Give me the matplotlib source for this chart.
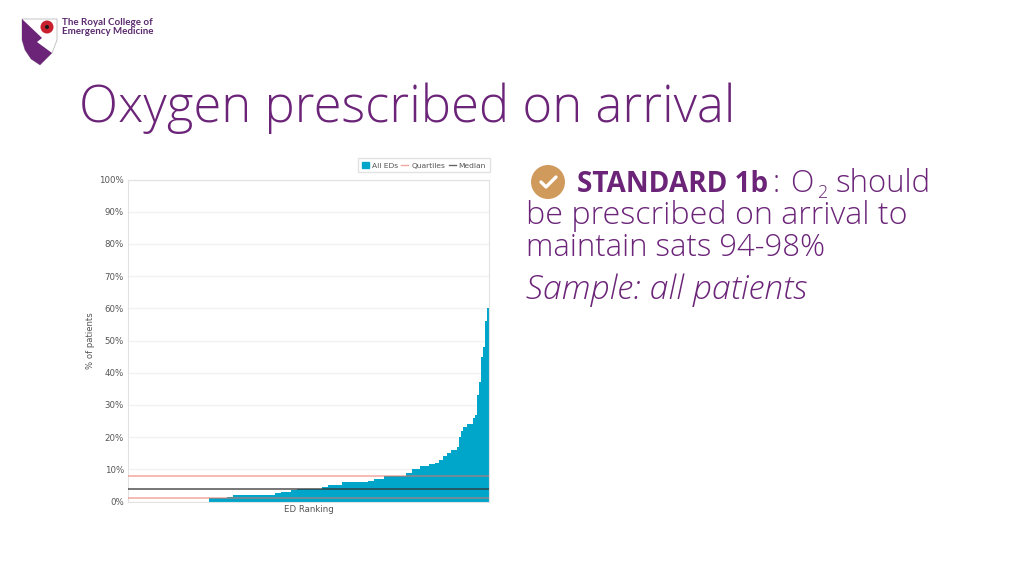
import numpy as np
from matplotlib import pyplot as plt
from matplotlib.lines import Line2D
from matplotlib.patches import Patch, Polygon, Circle

# percent of patients per ED, sorted
ed_values = [0] * 41 + [1] * 9 + [1.5] * 3 + [2] * 21 + [2.5] * 3 + [3] * 5 + [3.5] * 3 + \
    [4] * 13 + [4.5] * 3 + [5] * 7 + [6] * 13 + [6.5] * 3 + [7] * 5 + [8] * 11 + [8.8] * 3 + \
    [10] * 4 + [11] * 5 + [11.5] * 3 + [12] * 2 + [13] * 2 + [14] * 2 + [15] * 2 + [16] * 3 + \
    [17, 20, 22, 23, 23, 24, 24, 24, 26, 27, 33, 37, 45, 48, 56, 60]
quartiles = [1, 8]
median = 4
y_ticks = [0, 10, 20, 30, 40, 50, 60, 70, 80, 90, 100]

purple = '#6B2478'
bar_color = '#00A5CA'
W, H = 1024, 576

fig = plt.figure(figsize=(W / 100, H / 100), dpi=100)

ax = fig.add_axes([128 / W, 1 - 501.5 / H, 361 / W, 322 / H])
x = np.arange(len(ed_values))
ax.bar(x, ed_values, width=1.03, color=bar_color, linewidth=0, zorder=2)
for q in quartiles:
    ax.axhline(q, color='#E8705F', alpha=0.6, lw=1.1, zorder=3)
ax.axhline(median, color='#333333', alpha=0.85, lw=1.1, zorder=3)
ax.set_xlim(-0.5, len(ed_values) - 0.5)
ax.set_ylim(0, 100)
ax.set_xticks([])
ax.set_yticks(y_ticks)
ax.set_yticklabels(['{0}%'.format(t) for t in y_ticks], fontsize=6.2, color='#555555')
ax.tick_params(axis='y', length=0, pad=3)
ax.grid(axis='y', color='#F2F2F2', lw=1, zorder=0)
ax.set_axisbelow(True)
for s in ax.spines.values():
    s.set_color('#E2E2E2')
ax.set_xlabel('ED Ranking', fontsize=6.2, color='#555555', labelpad=2.5)
ax.set_ylabel('% of patients', fontsize=6.1, color='#555555', labelpad=3)

handles = [Patch(color=bar_color, label='All EDs'),
           Line2D([0], [0], color='#F0A8A0', lw=1, label='Quartiles'),
           Line2D([0], [0], color='#666666', lw=1, label='Median')]
ax.legend(handles=handles, ncol=3, fontsize=5.4, loc='lower right', bbox_to_anchor=(1.002, 1.022),
          borderaxespad=0, handlelength=0.9, handleheight=0.8, handletextpad=0.4,
          columnspacing=0.5, borderpad=0.5, fancybox=False, edgecolor='#E2E2E2',
          framealpha=1, labelcolor='#555555')

# slide layer in pixel coordinates: logo, title and standard text
page = fig.add_axes([0, 0, 1, 1], zorder=5)
page.set_xlim(0, W)
page.set_ylim(H, 0)
page.axis('off')
page.patch.set_alpha(0)

page.add_patch(Polygon([[22, 19], [57, 19], [57, 40], [52, 53], [40, 65], [31, 59], [25, 50], [22, 40]],
                       closed=True, fc='white', ec='#BBBBBB', lw=0.6))
page.add_patch(Polygon([[22, 19], [42, 38], [37, 42], [52, 53], [40, 65], [31, 59], [25, 50], [22, 40]],
                       closed=True, fc=purple, ec='none'))
page.add_patch(Circle((47, 27), 6.5, fc='#C8202F', ec='none'))
page.add_patch(Circle((47, 27), 2, fc='#1A1A1A', ec='none'))
page.text(62, 22.5, 'The Royal College of', fontsize=7, weight='bold', color='#5B2A6E',
          family='Lato', va='center')
page.text(62, 31.5, 'Emergency Medicine', fontsize=7, weight='bold', color='#5B2A6E',
          family='Lato', va='center')

page.text(79, 122, 'Oxygen prescribed on arrival', fontsize=36.6, color=purple,
          family='Open Sans', weight='light', va='baseline')

page.add_patch(Circle((548, 182), 17, fc='#D09A5C', ec='none'))
page.plot([541, 546, 556], [182, 187, 177], color='white', lw=2.4, solid_capstyle='round')

body = dict(color=purple, family='Open Sans', va='baseline')
page.text(577, 192, 'STANDARD 1b', weight='bold', fontsize=20.2, **body)
page.text(773, 192, ':', fontsize=22, weight='light', **body)
page.text(790, 192, 'O', fontsize=22, weight='light', **body)
page.text(817, 198, '2', fontsize=13, weight='light', **body)
page.text(836, 192, 'should', fontsize=22.4, weight='light', **body)
page.text(526, 224, 'be prescribed on arrival to', fontsize=23.2, weight='light', **body)
page.text(526, 256, 'maintain sats 94-98%', fontsize=22.3, weight='light', **body)
page.text(526, 299, 'Sample: all patients', style='italic', fontsize=24.4, weight='light', **body)

fig.savefig('out.png', dpi=100, facecolor='white')
